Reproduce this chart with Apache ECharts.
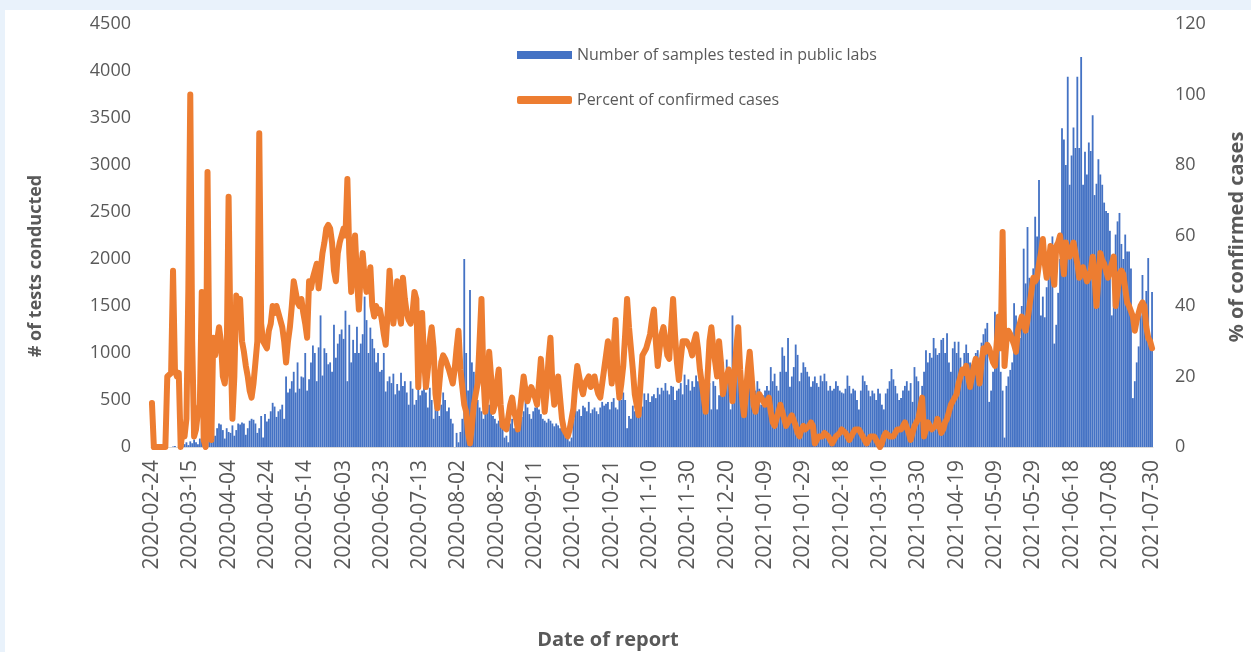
<!DOCTYPE html>
<html>
<head>
<meta charset="utf-8">
<script src="https://cdn.jsdelivr.net/npm/echarts@6/dist/echarts.min.js"></script>
<style>
  html, body { margin: 0; padding: 0; background: #ffffff; }
  #main { width: 1251px; height: 652px; }
</style>
</head>
<body>
<div id="main"></div>
<script>
// daily dates, 2020-02-24 .. 2021-07-30
var startDate = Date.UTC(2020, 1, 24);
var dayCount = 523;
var dates = [];
for (var i = 0; i < dayCount; i++) {
    dates.push(new Date(startDate + i * 86400000).toISOString().slice(0, 10));
}

// number of samples tested in public labs
var samples = [
    0,0,0,0,0,0,0,0,0,0,
    0,5,10,0,15,20,10,30,50,20,
    60,40,80,50,30,90,60,100,40,120,
    210,150,180,120,200,250,240,180,90,200,
    160,150,230,120,180,250,240,260,250,130,
    200,280,300,290,250,150,200,330,100,350,
    270,300,380,470,430,320,380,400,450,300,
    750,580,620,700,800,580,900,620,750,740,
    1000,600,720,900,1080,1000,700,1060,1400,760,
    1050,1000,880,900,800,1300,950,1100,1200,1250,
    1150,1450,700,1300,900,1140,1000,1280,1000,1100,
    1200,1600,1350,1000,1270,1150,1050,900,1000,800,
    820,1000,590,700,750,680,780,560,670,600,
    790,650,700,580,450,700,620,450,500,680,
    550,600,700,580,420,630,500,300,480,420,
    330,450,580,500,380,420,300,250,0,150,
    50,160,300,2000,1000,600,1670,900,800,600,
    500,420,380,300,380,420,450,380,330,300,
    250,280,250,200,100,120,50,250,300,200,
    270,250,300,320,380,540,420,350,300,380,
    420,480,400,350,300,280,260,300,280,250,
    220,250,230,200,180,200,100,100,60,100,
    300,400,380,400,330,440,420,380,480,360,
    400,420,380,350,420,480,440,460,480,400,
    480,520,420,400,540,500,580,500,200,330,
    300,440,380,400,360,400,430,570,500,570,
    480,540,560,520,630,560,630,600,680,600,
    560,650,640,500,600,620,680,560,770,660,
    720,600,700,640,760,700,720,650,560,600,
    620,680,400,700,650,400,550,720,600,650,
    930,700,400,1400,650,800,1000,700,400,550,
    400,600,650,500,550,600,700,620,450,550,
    600,650,600,850,700,780,650,600,800,1060,
    970,800,1160,640,750,850,1090,980,700,790,
    900,850,800,750,640,700,750,680,640,760,
    700,780,700,600,650,600,620,700,650,600,
    580,570,620,760,650,570,620,600,500,400,
    600,760,700,660,600,540,600,570,500,620,
    570,450,400,570,620,700,830,720,650,570,
    500,520,600,650,700,600,680,480,850,750,
    700,500,650,800,1030,900,1000,950,1160,1050,
    980,1000,1140,1160,1000,1210,900,800,1050,1120,
    1000,1120,950,820,1000,1090,1000,900,820,950,
    1000,1030,950,1110,1200,1260,1320,480,600,800,
    1440,1400,1300,800,600,100,650,750,820,900,
    1530,1400,1300,1160,1500,2110,1740,2340,1800,1740,
    1900,2450,2240,2840,1400,1600,1380,1700,1830,2000,
    2240,1100,1300,1640,2000,3390,3270,3000,3940,2790,
    3100,3400,3180,3940,3180,4150,2790,3140,2900,3240,
    3150,3530,2680,2800,3060,2900,2790,2600,2510,2490,
    2300,1400,1900,2260,2400,2490,2160,2000,2260,2080,
    2080,1900,520,700,900,1070,1400,1830,1500,1660,
    2010,1100,1650
];

// percent of confirmed cases
var percentConfirmed = [
    12.5,0,0,0,0,0,0,0,20,20,
    21,50,22,20,21,0,5,3,8,45,
    100,30,3,5,10,12,44,2,0,78,
    20,2,31,26,30,34,30,20,18,25,
    71,30,8,20,43,40,42,30,27,23,
    20,16,14,18,24,30,89,35,30,29,
    28,33,35,40,38,40,40,36,34,30,
    24,30,34,40,47,44,41,40,42,38,
    35,31,47,45,48,50,52,45,50,55,
    58,62,63,62,58,50,47,55,58,60,
    62,60,76,55,44,52,60,48,39,50,
    55,48,44,47,51,40,37,40,38,39,
    36,32,29,38,50,42,35,40,47,38,
    35,48,42,38,36,35,38,44,42,17,
    30,38,25,17,22,30,34,28,15,11,
    18,24,26,25,25,22,20,18,22,28,
    33,22,17,12,10,4,1,6,12,15,
    18,30,42,20,10,18,27,20,10,12,
    18,22,12,6,6,5,5,12,14,10,
    8,5,10,15,20,16,13,15,17,17,
    14,12,18,25,18,10,16,25,31,18,
    12,15,20,14,8,5,4,3,5,8,
    11,18,23,20,17,15,18,19,20,17,
    18,20,17,15,14,18,22,26,30,24,
    18,28,36,20,14,18,23,32,42,34,
    28,22,15,12,9,18,26,27,28,28,
    32,36,39,30,23,28,32,34,30,26,
    25,34,42,32,24,19,25,30,30,30,
    29,28,26,30,32,28,22,18,14,10,
    20,30,34,28,24,20,30,24,15,18,
    20,22,20,13,20,28,34,22,14,9,
    15,22,27,20,12,10,13,15,14,13,
    12,13,14,10,7,6,8,10,12,10,
    8,6,7,8,9,9,6,4,3,5,
    6,5,5,6,7,6,1,2,3,3,
    3,4,4,3,2,1,2,3,3,4,
    5,5,4,3,2,3,4,5,5,5,
    4,3,2,1,2,3,3,3,2,1,
    0,1,3,4,4,3,3,3,4,5,
    5,5,6,7,7,4,2,4,6,7,
    8,8,14,3,5,7,6,5,5,6,
    8,6,4,5,7,8,10,12,13,14,
    15,18,20,22,21,23,20,17,20,23,
    25,22,18,24,28,27,29,28,26,24,
    23,30,37,28,61,23,30,33,32,32,
    29,27,33,35,37,35,33,36,40,44,
    48,47,48,52,55,59,52,48,52,57,
    50,46,57,58,60,55,49,58,56,54,
    56,58,55,52,48,49,51,49,47,48,
    50,54,48,40,48,55,53,52,50,48,
    50,52,54,40,44,49,50,49,45,41,
    40,40,37,33,36,38,40,41,40,34,
    31,30,28
];

var barName = 'Number of samples tested in public labs';
var lineName = 'Percent of confirmed cases';
var textColor = '#595959';
var fontName = '"Open Sans", sans-serif';

var myChart = echarts.init(document.getElementById('main'));

option = {
    backgroundColor: '#ffffff',
    animation: false,
    textStyle: { fontFamily: fontName },
    graphic: [
        { type: 'rect', left: 0, top: 0, shape: { width: 1251, height: 10 }, style: { fill: '#e9f2fb' } },
        { type: 'rect', left: 0, top: 0, shape: { width: 5, height: 652 }, style: { fill: '#e9f2fb' } },
        {
            type: 'text', x: 36, y: 266, rotation: Math.PI / 2,
            style: { text: '# of tests conducted', fill: textColor, font: 'bold 18px "Open Sans"', align: 'center', verticalAlign: 'middle' }
        },
        {
            type: 'text', x: 1237, y: 237, rotation: Math.PI / 2,
            style: { text: '% of confirmed cases', fill: textColor, font: 'bold 20px "Open Sans"', align: 'center', verticalAlign: 'middle' }
        },
        {
            type: 'text', x: 608, y: 640,
            style: { text: 'Date of report', fill: textColor, font: 'bold 20px "Open Sans"', align: 'center', verticalAlign: 'middle' }
        }
    ],
    legend: {
        orient: 'vertical',
        left: 512,
        top: 42,
        itemWidth: 55,
        itemHeight: 8,
        itemGap: 29,
        textStyle: { color: textColor, fontSize: 16, fontFamily: fontName },
        data: [
            { name: barName, icon: 'rect' },
            { name: lineName, icon: 'roundRect' }
        ]
    },
    grid: {
        left: 151,
        right: 98,
        top: 24,
        bottom: 205,
        containLabel: false
    },
    xAxis: {
        type: 'category',
        data: dates,
        axisLine: { lineStyle: { color: '#d9d9d9' } },
        axisTick: { show: false },
        axisLabel: {
            rotate: 90,
            color: textColor,
            fontSize: 21,
            margin: 13,
            interval: function (idx) {
                return (idx % 20 === 0 && idx <= dayCount - 20) || idx === dayCount - 1;
            }
        }
    },
    yAxis: [
        {
            type: 'value',
            min: 0,
            max: 4500,
            interval: 500,
            splitLine: { show: false },
            axisLine: { show: false },
            axisTick: { show: false },
            axisLabel: { color: textColor, fontSize: 18, margin: 20, formatter: function (v) { return String(v); } }
        },
        {
            type: 'value',
            min: 0,
            max: 120,
            interval: 20,
            splitLine: { show: false },
            axisLine: { show: false },
            axisTick: { show: false },
            axisLabel: { color: textColor, fontSize: 18, margin: 22 }
        }
    ],
    series: [
        {
            name: barName,
            type: 'bar',
            data: samples,
            barCategoryGap: '5%',
            itemStyle: { color: '#4472C4' }
        },
        {
            name: lineName,
            type: 'line',
            yAxisIndex: 1,
            data: percentConfirmed,
            symbol: 'none',
            lineStyle: { color: '#ED7D31', width: 6, cap: 'round', join: 'round' },
            itemStyle: { color: '#ED7D31' }
        }
    ]
};
myChart.setOption(option);
</script>
</body>
</html>
